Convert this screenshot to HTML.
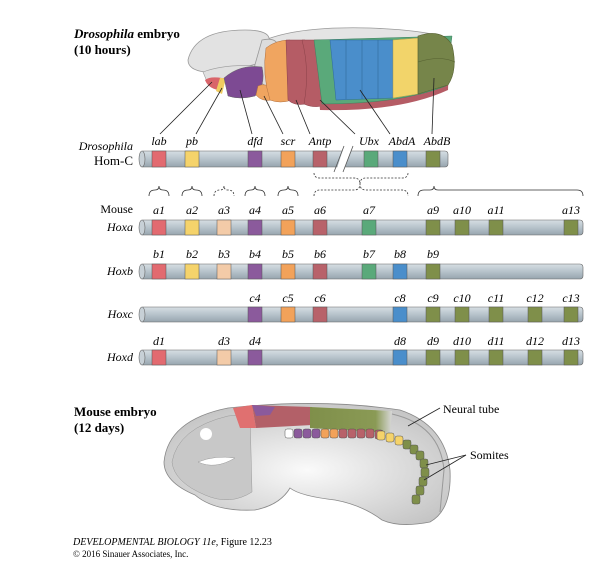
<!DOCTYPE html>
<html><head><style>
body{margin:0;background:#fff}
svg text{font-family:"Liberation Serif",serif}
.i{font-style:italic;font-size:12px}
</style></head><body>
<svg width="612" height="564" viewBox="0 0 612 564" xmlns="http://www.w3.org/2000/svg">
<defs>
<linearGradient id="bar" x1="0" y1="0" x2="0" y2="1">
<stop offset="0" stop-color="#d6dee3"/><stop offset="0.5" stop-color="#b7c3cb"/><stop offset="1" stop-color="#97a5ae"/></linearGradient>
<linearGradient id="gr" x1="0" y1="0" x2="1" y2="0"><stop offset="0" stop-color="#7f8f4a"/><stop offset="0.8" stop-color="#8a9a55"/><stop offset="1" stop-color="#d8d8d8"/></linearGradient>
<radialGradient id="mb" cx="0.5" cy="0.55" r="0.6"><stop offset="0" stop-color="#fafafa"/><stop offset="1" stop-color="#c4c4c4"/></radialGradient>
</defs>
<!-- Drosophila embryo -->
<text x="74" y="38" font-size="13" font-weight="bold"><tspan font-style="italic">Drosophila</tspan> embryo</text>
<text x="74" y="54" font-size="13" font-weight="bold">(10 hours)</text>
<path d="M265 40 Q300 26 370 28 Q420 30 440 36 L440 50 L265 50Z" fill="#e4e4e4" stroke="#999" stroke-width="0.8"/>
<path d="M188 60 Q195 30 245 30 Q275 30 268 45 L262 62 Q240 70 205 72 Q188 70 188 60Z" fill="#e2e2e2" stroke="#999" stroke-width="0.8"/>
<path d="M262 40 Q275 37 278 45 L270 90 L252 75Z" fill="#dcdcdc" stroke="#999" stroke-width="0.8"/>
<path d="M203 72 Q225 64 255 66 L242 82 L208 84Z" fill="#e0e0e0" stroke="#999" stroke-width="0.6"/>
<path d="M205 80 Q210 76 222 78 L218 90 Q208 88 205 80Z" fill="#d9646a"/>
<path d="M220 78 L226 78 L222 94 L216 91Z" fill="#f0cc60"/>
<path d="M224 78 Q240 64 262 67 Q266 85 255 96 Q240 100 228 96Z" fill="#7d4a93" stroke="#666" stroke-width="0.5"/>
<path d="M258 86 Q266 82 272 90 L272 100 Q262 102 256 95Z" fill="#f0a560" stroke="#b07040" stroke-width="0.5"/>
<path d="M266 48 Q276 40 290 40 L292 100 Q280 104 270 100 Q262 75 266 48Z" fill="#f0a560" stroke="#b07040" stroke-width="0.5"/>
<path d="M286 40 L305 40 Q312 70 306 104 Q294 106 288 100Z" fill="#b55c65" stroke="#8a4048" stroke-width="0.5"/>
<path d="M302 40 L320 40 L322 106 Q312 108 304 104 Q310 70 302 40Z" fill="#b55c65" stroke="#8a4048" stroke-width="0.5"/>
<path d="M314 42 L450 36 L448 90 Q400 112 320 110Z" fill="#b55c65"/>
<path d="M314 40 L452 36 L446 86 Q400 104 322 104Z" fill="#5aa97a" stroke="#3f8060" stroke-width="0.5"/>
<path d="M330 40 L393 40 L393 98 L336 100Z" fill="#4a8ecb" stroke="#2f6a9a" stroke-width="0.5"/>
<path d="M346 40 L346 99 M362 40 L362 99 M378 40 L378 99" stroke="#2f6a9a" stroke-width="0.6"/>
<path d="M393 40 L418 38 L418 94 L393 98Z" fill="#f2d46a" stroke="#b0a050" stroke-width="0.5"/>
<path d="M418 36 Q442 28 452 45 Q458 70 448 85 L418 94Z" fill="#76854a" stroke="#556030" stroke-width="0.6"/>
<path d="M418 62 Q440 55 455 62" stroke="#556030" fill="none" stroke-width="0.6"/>
<!-- leader lines -->
<g stroke="#222" stroke-width="0.8" fill="none">
<line x1="212" y1="82" x2="160" y2="134"/><line x1="222" y1="88" x2="196" y2="134"/>
<line x1="240" y1="90" x2="252" y2="134"/><line x1="264" y1="96" x2="283" y2="134"/>
<line x1="296" y1="100" x2="310" y2="134"/><line x1="320" y1="100" x2="355" y2="134"/>
<line x1="360" y1="90" x2="390" y2="134"/><line x1="434" y1="78" x2="432" y2="134"/>
</g>
<!-- Hom-C -->
<text x="133" y="150" class="i" text-anchor="end" font-size="13">Drosophila</text>
<text x="133" y="165" text-anchor="end" font-size="13">Hom-C</text>
<g class="i" text-anchor="middle">
<text x="159" y="145">lab</text><text x="192" y="145">pb</text><text x="255" y="145">dfd</text><text x="288" y="145">scr</text><text x="320" y="145">Antp</text><text x="369" y="145">Ubx</text><text x="402" y="145">AbdA</text><text x="437" y="145">AbdB</text>
</g>
<rect x="140" y="151" width="308" height="16" rx="3" fill="url(#bar)" stroke="#666" stroke-width="0.6"/>
<ellipse cx="142" cy="159" rx="3" ry="8" fill="#c7d0d6" stroke="#666" stroke-width="0.6"/>
<polygon points="335,174 345,144 353,144 343,174" fill="#fff"/>
<line x1="334" y1="172" x2="344" y2="146" stroke="#555" stroke-width="0.8"/>
<line x1="343" y1="172" x2="353" y2="146" stroke="#555" stroke-width="0.8"/>
<g stroke="#555" stroke-width="0.5">
<rect x="152" y="151" width="14" height="16" fill="#e26a70"/>
<rect x="185" y="151" width="14" height="16" fill="#f5d36b"/>
<rect x="248" y="151" width="14" height="16" fill="#8b5a9c"/>
<rect x="281" y="151" width="14" height="16" fill="#f2a25a"/>
<rect x="313" y="151" width="14" height="16" fill="#b8626a"/>
<rect x="364" y="151" width="14" height="16" fill="#5aa97a"/>
<rect x="393" y="151" width="14" height="16" fill="#4a8ecb"/>
<rect x="426" y="151" width="14" height="16" fill="#7f8f4a"/>
</g>
<!-- brackets -->
<g stroke="#333" stroke-width="0.8" fill="none">
<path d="M314 173 Q314 178 320 178 L354 178 Q360 178 360 184 Q360 178 366 178 L402 178 Q408 178 408 173" stroke-dasharray="2,1.5"/>
<path d="M314 196 Q314 190 320 190 L354 190 Q360 190 360 184 Q360 190 366 190 L402 190 Q408 190 408 196" stroke-dasharray="2,1.5"/>
<path d="M149 196 Q149 190 155 190 Q159 190 159 186 Q159 190 163 190 Q169 190 169 196"/>
<path d="M182 196 Q182 190 188 190 Q192 190 192 186 Q192 190 196 190 Q202 190 202 196"/>
<path d="M214 196 Q214 190 220 190 Q224 190 224 186 Q224 190 228 190 Q234 190 234 196" stroke-dasharray="2,1.5"/>
<path d="M245 196 Q245 190 251 190 Q255 190 255 186 Q255 190 259 190 Q265 190 265 196"/>
<path d="M278 196 Q278 190 284 190 Q288 190 288 186 Q288 190 292 190 Q298 190 298 196"/>
<path d="M418 196 Q418 190 424 190 L430 190 Q434 190 434 186 Q434 190 438 190 L577 190 Q583 190 583 196"/>
</g>
<!-- Mouse rows -->
<text x="133" y="213" text-anchor="end" font-size="12">Mouse</text>
<g class="i" text-anchor="end" font-size="13">
<text x="133" y="231">Hoxa</text><text x="133" y="275">Hoxb</text><text x="133" y="318">Hoxc</text><text x="133" y="361">Hoxd</text>
</g>
<g>
<rect x="140" y="220" width="443" height="15" rx="3" fill="url(#bar)" stroke="#666" stroke-width="0.6"/><ellipse cx="142" cy="227.5" rx="3" ry="7.5" fill="#c7d0d6" stroke="#666" stroke-width="0.6"/>
<rect x="140" y="264" width="443" height="15" rx="3" fill="url(#bar)" stroke="#666" stroke-width="0.6"/><ellipse cx="142" cy="271.5" rx="3" ry="7.5" fill="#c7d0d6" stroke="#666" stroke-width="0.6"/>
<rect x="140" y="307" width="443" height="15" rx="3" fill="url(#bar)" stroke="#666" stroke-width="0.6"/><ellipse cx="142" cy="314.5" rx="3" ry="7.5" fill="#c7d0d6" stroke="#666" stroke-width="0.6"/>
<rect x="140" y="350" width="443" height="15" rx="3" fill="url(#bar)" stroke="#666" stroke-width="0.6"/><ellipse cx="142" cy="357.5" rx="3" ry="7.5" fill="#c7d0d6" stroke="#666" stroke-width="0.6"/>
</g>
<g stroke="#555" stroke-width="0.5">
<rect x="152" y="220" width="14" height="15" fill="#e26a70"/><rect x="185" y="220" width="14" height="15" fill="#f5d36b"/><rect x="217" y="220" width="14" height="15" fill="#f3cba8"/><rect x="248" y="220" width="14" height="15" fill="#8b5a9c"/><rect x="281" y="220" width="14" height="15" fill="#f2a25a"/><rect x="313" y="220" width="14" height="15" fill="#b8626a"/><rect x="362" y="220" width="14" height="15" fill="#5aa97a"/><rect x="426" y="220" width="14" height="15" fill="#7f8f4a"/><rect x="455" y="220" width="14" height="15" fill="#7f8f4a"/><rect x="489" y="220" width="14" height="15" fill="#7f8f4a"/><rect x="564" y="220" width="14" height="15" fill="#7f8f4a"/>
<rect x="152" y="264" width="14" height="15" fill="#e26a70"/><rect x="185" y="264" width="14" height="15" fill="#f5d36b"/><rect x="217" y="264" width="14" height="15" fill="#f3cba8"/><rect x="248" y="264" width="14" height="15" fill="#8b5a9c"/><rect x="281" y="264" width="14" height="15" fill="#f2a25a"/><rect x="313" y="264" width="14" height="15" fill="#b8626a"/><rect x="362" y="264" width="14" height="15" fill="#5aa97a"/><rect x="393" y="264" width="14" height="15" fill="#4a8ecb"/><rect x="426" y="264" width="14" height="15" fill="#7f8f4a"/>
<rect x="248" y="307" width="14" height="15" fill="#8b5a9c"/><rect x="281" y="307" width="14" height="15" fill="#f2a25a"/><rect x="313" y="307" width="14" height="15" fill="#b8626a"/><rect x="393" y="307" width="14" height="15" fill="#4a8ecb"/><rect x="426" y="307" width="14" height="15" fill="#7f8f4a"/><rect x="455" y="307" width="14" height="15" fill="#7f8f4a"/><rect x="489" y="307" width="14" height="15" fill="#7f8f4a"/><rect x="528" y="307" width="14" height="15" fill="#7f8f4a"/><rect x="564" y="307" width="14" height="15" fill="#7f8f4a"/>
<rect x="152" y="350" width="14" height="15" fill="#e26a70"/><rect x="217" y="350" width="14" height="15" fill="#f3cba8"/><rect x="248" y="350" width="14" height="15" fill="#8b5a9c"/><rect x="393" y="350" width="14" height="15" fill="#4a8ecb"/><rect x="426" y="350" width="14" height="15" fill="#7f8f4a"/><rect x="455" y="350" width="14" height="15" fill="#7f8f4a"/><rect x="489" y="350" width="14" height="15" fill="#7f8f4a"/><rect x="528" y="350" width="14" height="15" fill="#7f8f4a"/><rect x="564" y="350" width="14" height="15" fill="#7f8f4a"/>
</g>
<g class="i" text-anchor="middle">
<text x="159" y="214">a1</text><text x="192" y="214">a2</text><text x="224" y="214">a3</text><text x="255" y="214">a4</text><text x="288" y="214">a5</text><text x="320" y="214">a6</text><text x="369" y="214">a7</text><text x="433" y="214">a9</text><text x="462" y="214">a10</text><text x="496" y="214">a11</text><text x="571" y="214">a13</text>
<text x="159" y="258">b1</text><text x="192" y="258">b2</text><text x="224" y="258">b3</text><text x="255" y="258">b4</text><text x="288" y="258">b5</text><text x="320" y="258">b6</text><text x="369" y="258">b7</text><text x="400" y="258">b8</text><text x="433" y="258">b9</text>
<text x="255" y="302">c4</text><text x="288" y="302">c5</text><text x="320" y="302">c6</text><text x="400" y="302">c8</text><text x="433" y="302">c9</text><text x="462" y="302">c10</text><text x="496" y="302">c11</text><text x="535" y="302">c12</text><text x="571" y="302">c13</text>
<text x="159" y="345">d1</text><text x="224" y="345">d3</text><text x="255" y="345">d4</text><text x="400" y="345">d8</text><text x="433" y="345">d9</text><text x="462" y="345">d10</text><text x="496" y="345">d11</text><text x="535" y="345">d12</text><text x="571" y="345">d13</text>
</g>
<!-- Mouse embryo -->
<text x="74" y="416" font-size="13" font-weight="bold">Mouse embryo</text>
<text x="74" y="432" font-size="13" font-weight="bold">(12 days)</text>
<path d="M164 462 Q168 420 228 408 Q320 398 400 410 Q445 425 450 470 Q452 510 430 522 Q400 528 382 520 Q362 505 335 500 Q300 496 290 488 Q280 505 255 510 Q215 512 195 495 Q164 482 164 462Z" fill="url(#mb)" stroke="#888" stroke-width="0.8"/>
<path d="M172 462 Q178 428 228 416 L250 414 L252 492 Q230 506 205 495 Q174 482 172 462Z" fill="#c8c8c8" stroke="#999" stroke-width="0.5"/>
<path d="M198 462 Q215 455 235 458 Q215 470 198 462Z" fill="#fff" stroke="#999" stroke-width="0.5"/>
<circle cx="206" cy="434" r="6" fill="#fff"/>
<path d="M233 408 L252 405 L256 428 L240 428Z" fill="#e07070"/>
<path d="M252 405 L312 407 L312 425 L256 428Z" fill="#b36068"/>
<path d="M252 405 L275 407 L270 415 L256 416Z" fill="#8b5a9c"/>
<path d="M310 407 L392 411 L390 433 L310 428Z" fill="url(#gr)"/>
<path d="M392 414 Q440 425 444 470 L440 512" stroke="#999" fill="none" stroke-width="1"/>
<g stroke="#555" stroke-width="0.5">
<rect x="285" y="429" width="8" height="9" rx="2" fill="#fff"/>
<rect x="294" y="429" width="8" height="9" rx="2" fill="#8b5a9c"/><rect x="303" y="429" width="8" height="9" rx="2" fill="#8b5a9c"/><rect x="312" y="429" width="8" height="9" rx="2" fill="#8b5a9c"/>
<rect x="321" y="429" width="8" height="9" rx="2" fill="#f2a25a"/><rect x="330" y="429" width="8" height="9" rx="2" fill="#f2a25a"/>
<rect x="339" y="429" width="8" height="9" rx="2" fill="#b8626a"/><rect x="348" y="429" width="8" height="9" rx="2" fill="#b8626a"/><rect x="357" y="429" width="8" height="9" rx="2" fill="#b8626a"/><rect x="366" y="429" width="8" height="9" rx="2" fill="#b8626a"/><rect x="375" y="430" width="8" height="9" rx="2" fill="#b8626a"/>
<rect x="377" y="431" width="8" height="9" rx="2" fill="#f5d36b"/><rect x="386" y="433" width="8" height="9" rx="2" fill="#f5d36b"/><rect x="395" y="436" width="8" height="9" rx="2" fill="#f5d36b"/>
<rect x="403" y="440" width="8" height="9" rx="2" fill="#7f8f4a"/><rect x="410" y="445" width="8" height="9" rx="2" fill="#7f8f4a"/><rect x="416" y="451" width="8" height="9" rx="2" fill="#7f8f4a"/><rect x="420" y="459" width="8" height="9" rx="2" fill="#7f8f4a"/><rect x="421" y="468" width="8" height="9" rx="2" fill="#7f8f4a"/><rect x="419" y="477" width="8" height="9" rx="2" fill="#7f8f4a"/><rect x="416" y="486" width="8" height="9" rx="2" fill="#7f8f4a"/><rect x="412" y="495" width="8" height="9" rx="2" fill="#7f8f4a"/>
</g>
<g stroke="#222" stroke-width="0.8"><line x1="408" y1="426" x2="440" y2="408"/><line x1="426" y1="465" x2="466" y2="455"/><line x1="424" y1="480" x2="466" y2="455"/></g>
<text x="443" y="413" font-size="12">Neural tube</text>
<text x="470" y="459" font-size="12">Somites</text>
<text x="73" y="545" font-size="10" font-family="Liberation Sans" font-style="italic">DEVELOPMENTAL BIOLOGY 11e, <tspan font-style="normal">Figure 12.23</tspan></text>
<text x="73" y="557" font-size="9" font-family="Liberation Sans">© 2016 Sinauer Associates, Inc.</text>
</svg>
</body></html>
